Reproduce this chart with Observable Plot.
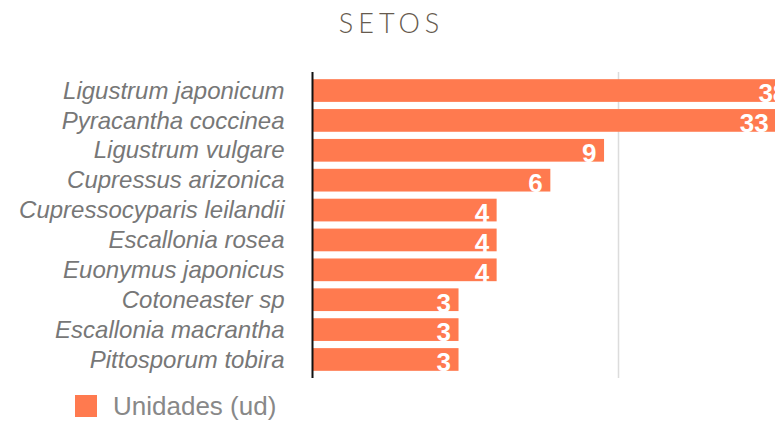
<!DOCTYPE html>
<html>
<head>
<meta charset="utf-8">
<script src="https://cdn.jsdelivr.net/npm/d3@7"></script>
<script src="https://cdn.jsdelivr.net/npm/@observablehq/plot@0.6"></script>
<style>
  html, body { margin: 0; padding: 0; background: #fff; }
  body { width: 775px; height: 423px; overflow: hidden; font-family: "Liberation Sans", Arial, sans-serif; }
  #title {
    box-sizing: border-box; height: 56px; padding-top: 10px; padding-left: 8px;
    text-align: center; font-family: Lato, "Open Sans", sans-serif; font-weight: 300;
    font-size: 27px; line-height: 26px; letter-spacing: 5px; color: #665a4e;
  }
  #chart svg { display: block; }
  #legend { display: flex; align-items: center; padding-top: 7px; margin-left: 75px; }
  #legend .sw { width: 22px; height: 22px; margin-right: 16px; }
  #legend .lb { font-size: 26px; line-height: 26px; color: #888; }
</style>
</head>
<body>
<div id="title"></div>
<div id="chart"></div>
<div id="legend"><span class="sw"></span><span class="lb"></span></div>
<script>
const chartTitle = "SETOS";
const species = [
  "Ligustrum japonicum",
  "Pyracantha coccinea",
  "Ligustrum vulgare",
  "Cupressus arizonica",
  "Cupressocyparis leilandii",
  "Escallonia rosea",
  "Euonymus japonicus",
  "Cotoneaster sp",
  "Escallonia macrantha",
  "Pittosporum tobira"
];
const units = [38, 33, 9, 6, 4, 4, 4, 3, 3, 3];
const seriesName = "Unidades (ud)";
const gridValues = [10];
const logBase = 1;
const barColor = "#ff7a4f";

const data = species.map((s, i) => ({species: s, units: units[i]}));

document.getElementById("title").textContent = chartTitle;
document.querySelector("#legend .sw").style.background = barColor;
document.querySelector("#legend .lb").textContent = seriesName;

const chart = Plot.plot({
  width: 775,
  height: 330,
  marginLeft: 313,
  marginRight: -148,
  marginTop: 16,
  marginBottom: 8,
  style: {background: "transparent", color: "#777", fontFamily: "'Liberation Sans', Arial, sans-serif", overflow: "visible"},
  x: {type: "log", domain: [1, 100], axis: null},
  y: {domain: species, padding: 0.24, round: false, axis: null},
  marks: [
    Plot.ruleX(gridValues, {stroke: "#dcdcdc", strokeWidth: 1.5}),
    Plot.barX(data, {x1: logBase, x2: "units", y: "species", fill: barColor}),
    Plot.text(data, {x: "units", y: "species", text: d => String(d.units), textAnchor: "end", dx: -8, dy: 3, fill: "white", fontWeight: "bold", fontSize: 26}),
    Plot.ruleX([logBase], {stroke: "#111", strokeWidth: 2, dx: -1}),
    Plot.axisY({tickSize: 0, tickPadding: 29, fontSize: 24, fontStyle: "italic", label: null})
  ]
});
document.getElementById("chart").append(chart);
</script>
</body>
</html>
